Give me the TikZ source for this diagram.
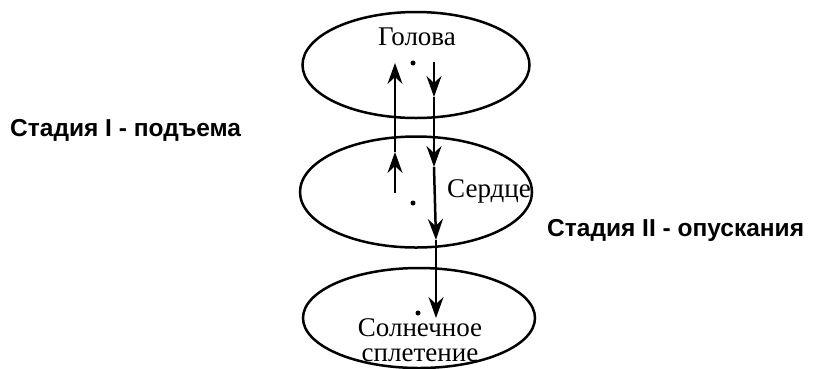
\documentclass[tikz,border=0pt]{standalone}
\usepackage{fontspec}
\setmainfont{Liberation Serif}
\setsansfont{Liberation Sans}
\usetikzlibrary{shapes.geometric, arrows.meta, positioning}
\tikzstyle{organ} = [ellipse, draw=black, line width=2.5pt, 
inner sep=0pt]
\tikzstyle{organname} = [font=\fontsize{27}{25}\selectfont, 
inner sep=0pt]
\tikzstyle{stagetext} = [font=\sffamily\bfseries\fontsize{24.5}{24.5}\selectfont, 
inner sep=0pt]
\tikzstyle{spot} = [circle, fill=black, inner sep=0pt, 
minimum size=5pt]
\tikzstyle{arrow} = [line width=2.5pt,
-{Stealth[length=21pt,width=15pt,inset=7pt]}]

\begin{document}
\begin{tikzpicture}[x=1pt, y=-1pt]
\useasboundingbox (0,0) rectangle (816,368);

%-------centres------------------
\node (head) [organ, minimum width=227pt, minimum height=106pt] 
at (416,65) {};
\node (heart) [organ, minimum width=232pt, minimum height=111pt] 
at (416,192) {};
\node (plexus) [organ, minimum width=232pt, minimum height=100pt] 
at (419,318) {};

\node (headdot) [spot] at (413,63) {};
\node (heartdot) [spot] at (413,203) {};
\node (plexusdot) [spot] at (418,313) {};

\node (headtext) [organname, anchor=base] at (417,45) {Голова};
\node (hearttext) [organname, anchor=base west] at (447,197) {Сердце};
\node (plexustext) [organname, anchor=north, align=center] 
at (420,318) {Солнечное\\сплетение};

%-------stages------------------
\node (stageup) [stagetext, anchor=base west] at (10,136) 
{Стадия I - подъема};
\node (stagedown) [stagetext, anchor=base west] at (547,236) 
{Стадия II - опускания};

%-------arrow up----------------
\coordinate (upA) at (395,193);
\coordinate (upB) at (395,152);
\coordinate (upC) at (395,63);
\draw [arrow] (upA) -- (upB);
\draw [arrow] (upB) -- (upC);

%-------arrow down--------------
\coordinate (downA) at (434,62);
\coordinate (downB) at (434,97);
\coordinate (downC) at (434,167);
\coordinate (downD) at (436,240);
\coordinate (downE) at (436,318);
\draw [arrow] (downA) -- (downB);
\draw [arrow] (downB) -- (downC);
\draw [arrow] (downC) -- (downD);
\draw [arrow] (downD) -- (downE);

\end{tikzpicture}
\end{document}
